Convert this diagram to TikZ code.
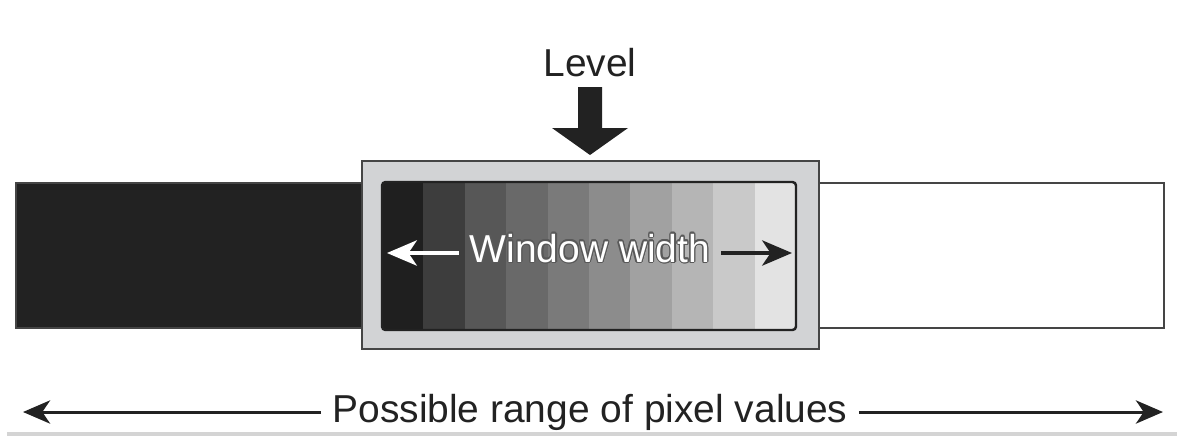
\documentclass[tikz,border=0pt]{standalone}
\usepackage{fontspec}
\setmainfont{Liberation Sans}
\usepackage{contour}
\contourlength{0.35pt}
\usetikzlibrary{arrows.meta,positioning,calc}
\definecolor{cInk}{HTML}{222222}
\definecolor{cEdge}{HTML}{454545}
\definecolor{cFrame}{HTML}{D2D3D5}
\definecolor{cRule}{HTML}{D4D4D4}

\begin{document}
\begin{tikzpicture}[
  x=0.01cm, y=-0.01cm,
  font=\fontsize{11.07}{13}\selectfont,
  lbl/.style={inner sep=3pt, text=cInk, anchor=base},
  wide/.style={-{Stealth[length=7.7pt,width=6.6pt,inset=2.2pt]}, line width=.85pt, draw=cInk},
  win/.style={-{Stealth[length=8.5pt,width=7.2pt,inset=2.4pt]}, line width=.95pt},
  bar/.style={line width=.6pt, draw=cEdge},
]
\useasboundingbox (0,0) rectangle (1200,436);

% grey rule along the bottom edge
\fill[cRule] (7,432) rectangle (1177,436);

% ---------------- full range: black below, white above ----------------
\draw[bar, fill=cInk] (16,183) rectangle (380,328);
\draw[bar, fill=white] (800,183) rectangle (1164,328);

% ---------------- window with grey ramp ----------------
\draw[line width=.6pt, draw=cEdge, fill=cFrame] (362,161) rectangle (819,349);
\foreach \i/\g in {0/88,1/76,2/66,3/59,4/52,5/45,6/37,7/29,8/21,9/11}
  \fill[black!\g] ({382+\i*41.4},182) rectangle ({382+(\i+1)*41.4},330);
\draw[line width=.7pt, draw=cInk, rounded corners=1pt] (382,182) rectangle (796,330);

% ---------------- level marker ----------------
\node[lbl] (level) at (590,76) {Level};
\fill[cInk] (578,87) -- (602,87) -- (602,128) -- (628,128) -- (590,155)
  -- (552,128) -- (578,128) -- cycle;

% ---------------- window width ----------------
\node[lbl] (wwidth) at (590,262)
  {\textcolor{white}{\contour{black!65}{Window width}}};
\coordinate (winL) at (387,253);
\coordinate (winR) at (792,253);
\draw[win, draw=white] (wwidth.west |- winL) -- (winL);
\draw[win, draw=cInk] (wwidth.east |- winR) -- (winR);

% ---------------- possible range ----------------
\node[lbl] (range) at (590,422) {Possible range of pixel values};
\coordinate (rangeL) at (23,412);
\coordinate (rangeR) at (1163,412);
\draw[wide] (range.west |- rangeL) -- (rangeL);
\draw[wide] (range.east |- rangeR) -- (rangeR);

\end{tikzpicture}
\end{document}
